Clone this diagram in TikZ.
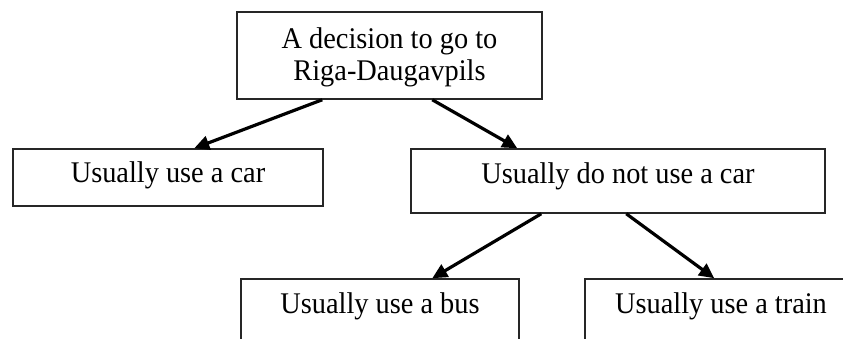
\documentclass[tikz,border=0pt]{standalone}
\usepackage{fontspec}
\setmainfont[FakeStretch=0.945]{Liberation Serif}
\usetikzlibrary{arrows.meta}
\begin{document}
\begin{tikzpicture}[x=1pt,y=-1pt,
  box/.style={draw=black!85, line width=1.5pt, inner sep=0pt, fill=none,
    font=\fontsize{30}{32}\selectfont},
  lowbox/.style={box, minimum height=64pt, text height=19pt, text depth=15pt},
  arr/.style={line width=3.2pt, -{Triangle[length=15pt,width=14pt]}}]
\clip (0,0) rectangle (843,338);
\fill[white] (0,0) rectangle (843,338);
\node[box, minimum width=305pt, minimum height=87pt, align=center, text depth=2pt]
  (top) at (389.5,55.5) {A decision to go to\\Riga-Daugavpils};
\node[box, minimum width=310pt, minimum height=57pt, text height=19pt, text depth=9pt]
  (car) at (168,177.5) {Usually use a car};
\node[lowbox, minimum width=414pt] (notcar) at (618,181) {Usually do not use a car};
\node[lowbox, minimum width=278pt] (bus) at (380,311) {Usually use a bus};
\node[lowbox, minimum width=272pt] (train) at (721,311) {Usually use a train};
\draw[arr] ([xshift=86pt]top.south west) -- ([xshift=182pt]car.north west);
\draw[arr] ([xshift=196pt]top.south west) -- ([xshift=107pt]notcar.north west);
\draw[arr] ([xshift=131pt]notcar.south west) -- ([xshift=192pt]bus.north west);
\draw[arr] ([xshift=216pt]notcar.south west) -- ([xshift=130pt]train.north west);
\end{tikzpicture}
\end{document}
